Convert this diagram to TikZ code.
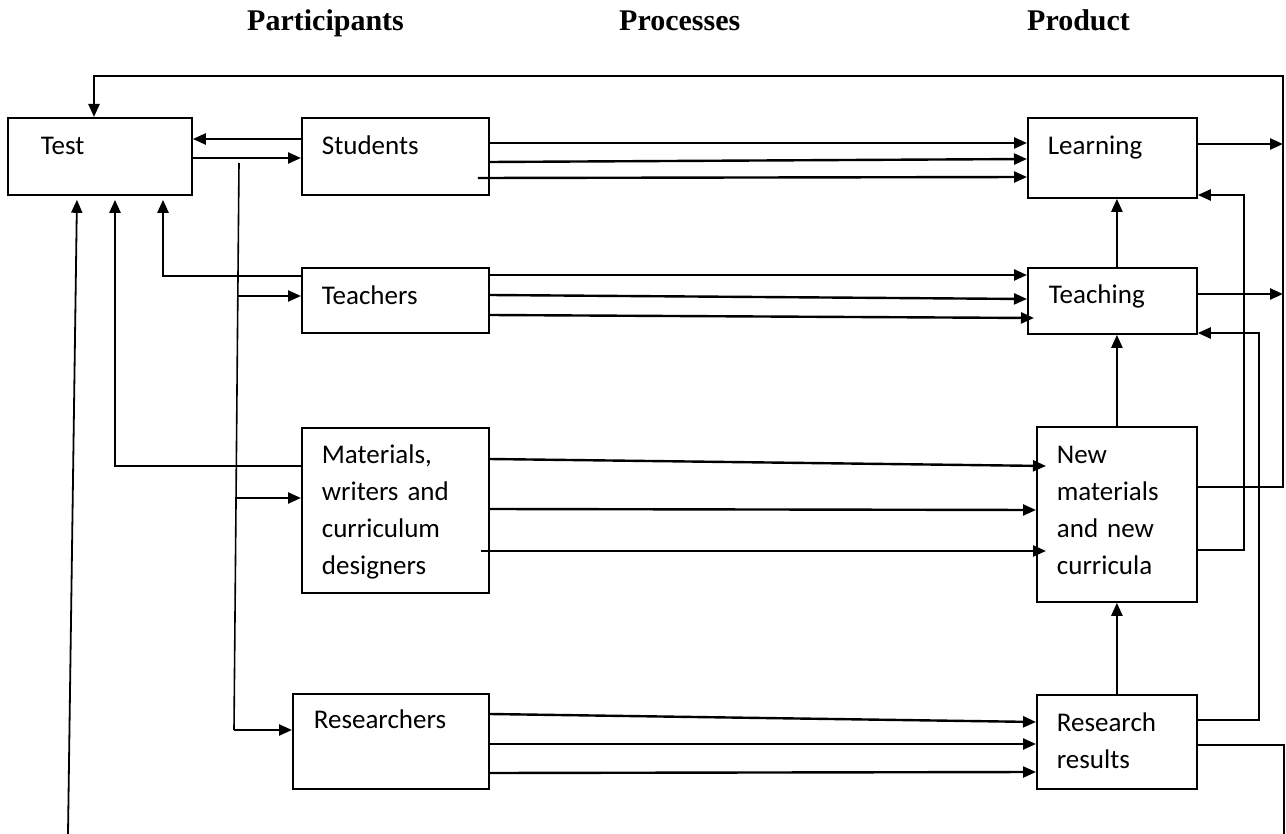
\documentclass[tikz,border=0pt]{standalone}
\usepackage{fontspec}
\usepackage{tikz}
\usetikzlibrary{
    arrows.meta,
    calc
}
\newfontfamily\cuerpo{Carlito}
\newfontfamily\rotulo{Liberation Serif}
\tikzset{
    >={Triangle[length=13pt,width=11pt]},
    caja/.style={
        draw,
        line width=1.8pt,
        anchor=north west,
        inner ysep=0pt,
        align=left,
        font=\cuerpo\fontsize{27}{37}\selectfont
    },
    encabezado/.style={
        anchor=base west,
        inner sep=0pt,
        font=\rotulo\bfseries\fontsize{30}{34}\selectfont
    },
    flecha/.style={->, line width=2.4pt},
    linea/.style={line width=1.6pt}
}

\begin{document}
\begin{tikzpicture}[
    x=1pt,
    y=-1pt
]
    \useasboundingbox (0,0) rectangle (1286,834);

    % Titulos
    \node[encabezado] (participantes) at (247,31) {Participants};
    \node[encabezado] (procesos)      at (619,31) {Processes};
    \node[encabezado] (producto)      at (1027,31) {Product};

    % Cajas
    \node[caja, text width=118pt, inner xsep=33pt, text height=37pt, text depth=40pt]
        (test) at (7,117) {Test};
    \node[caja, text width=147pt, inner xsep=20pt, text height=37pt, text depth=40pt]
        (students) at (301,117) {Students};
    \node[caja, text width=147pt, inner xsep=20pt, text height=37pt, text depth=28pt]
        (teachers) at (301,267) {Teachers};
    \node[caja, text width=147pt, inner xsep=20pt, text height=36pt, text depth=129pt]
        (materials) at (301,427) {Materials,\\writers and\\curriculum\\designers};
    \node[caja, text width=154pt, inner xsep=21pt, text height=35pt, text depth=60pt]
        (researchers) at (292,693) {Researchers};
    \node[caja, text width=129pt, inner xsep=20pt, text height=37pt, text depth=43pt]
        (learning) at (1027,117) {Learning};
    \node[caja, text width=127pt, inner xsep=21pt, text height=36pt, text depth=30pt]
        (teaching) at (1027,267) {Teaching};
    \node[caja, text width=120pt, inner xsep=20pt, text height=37pt, text depth=138pt]
        (newmat) at (1036,426) {New\\materials\\and new\\curricula};
    \node[caja, text width=120pt, inner xsep=20pt, text height=37pt, text depth=57pt]
        (results) at (1036,694) {Research\\results};

    % Puntos libres
    \coordinate (riel)   at (1283,76);
    \coordinate (fondo)  at (68,834);
    \coordinate (salida) at (1284,834);
    \coordinate (r0) at (239,163);
    \coordinate (r1) at (238,296);
    \coordinate (r2) at (235,498);
    \coordinate (r3) at (234,730);

    % Participantes -> procesos -> producto
    \path[flecha]
        (students.east |- 0,143) edge (learning.west |- 0,143)
        (students.east |- 0,162) edge (learning.west |- 0,159)
        ($(students.east |- 0,178)+(-12,0)$) edge (learning.west |- 0,177)

        (teachers.east |- 0,275) edge (teaching.west |- 0,275)
        (teachers.east |- 0,295) edge (teaching.west |- 0,299)
        (teachers.east |- 0,315) edge ($(teaching.west |- 0,318)+(7,0)$)

        (materials.east |- 0,459) edge ($(newmat.west |- 0,466)+(10,0)$)
        (materials.east |- 0,509) edge (newmat.west |- 0,510)
        ($(materials.east |- 0,551)+(-9,0)$) edge ($(newmat.west |- 0,551)+(10,0)$)

        (researchers.east |- 0,714) edge (results.west |- 0,722)
        (researchers.east |- 0,744) edge (results.west |- 0,744)
        (researchers.east |- 0,773) edge (results.west |- 0,772);

    % Columna derecha
    \draw[flecha] (results.north) -- (newmat.south -| results.north);
    \draw[flecha] (newmat.north -| results.north) -- (teaching.south -| results.north);
    \draw[flecha] (teaching.north -| results.north) -- (learning.south -| results.north);

    % Salidas y retornos
    \draw[flecha] (learning.east |- 0,144) -- (riel |- 0,144);
    \draw[flecha] (teaching.east |- 0,294) -- (riel |- 0,294);
    \draw[flecha] (newmat.east |- 0,487) -| (riel) -| (test.north -| 94,0);
    \draw[flecha] (newmat.east |- 0,550) -| (1244,195) -- (learning.east |- 0,195);
    \draw[flecha] (results.east |- 0,720) -| (1259,333) -- (teaching.east |- 0,333);
    \draw[line width=2.4pt] (results.east |- 0,745) -| (salida);

    % Hacia el test
    \draw[flecha, line width=1.8pt, shorten >=4pt] (fondo) -- (test.south -| 77,0);
    \draw[flecha, shorten >=4pt] (materials.west |- 0,466) -| (test.south -| 115,0);
    \draw[flecha, shorten >=4pt] (teachers.west |- 0,276) -| (test.south -| 163,0);
    \draw[flecha] (students.west |- 0,139) -- (test.east |- 0,139);
    \draw[flecha] (test.east |- 0,158) -- (students.west |- 0,158);

    % Reparto desde el test
    \draw[linea] (r0) -- (r3);
    \path[flecha]
        (r1) edge (teachers.west |- r1)
        (r2) edge (materials.west |- r2)
        (r3) edge (researchers.west |- r3);

\end{tikzpicture}
\end{document}
